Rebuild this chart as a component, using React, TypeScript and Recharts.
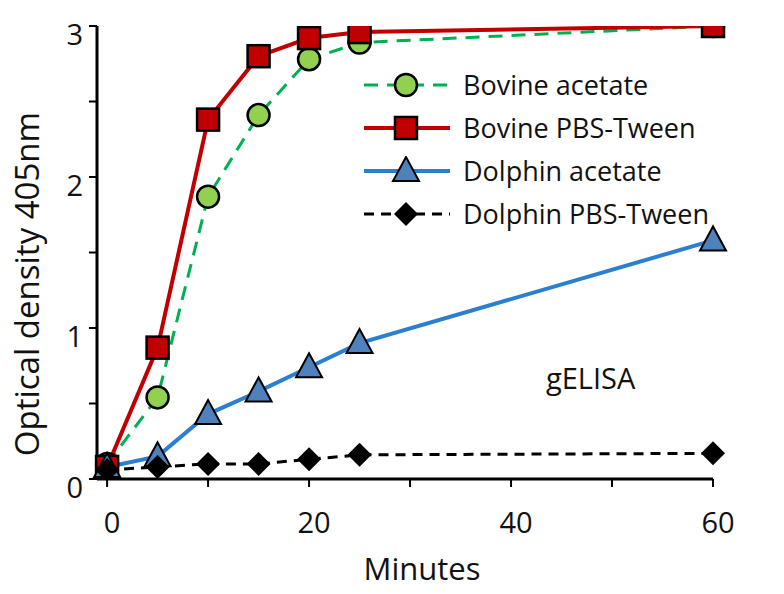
import React from 'react';
import { LineChart, Line, XAxis, YAxis } from 'recharts';

// values
const minutes = [0, 5, 10, 15, 20, 25, 60];
const bovineAcetate = [0.1, 0.54, 1.87, 2.41, 2.78, 2.89, 3.0];
const bovinePbsTween = [0.08, 0.87, 2.38, 2.8, 2.92, 2.96, 3.0];
const dolphinAcetate = [0.08, 0.15, 0.43, 0.58, 0.74, 0.9, 1.58];
const dolphinPbsTween = [0.06, 0.08, 0.1, 0.1, 0.13, 0.16, 0.17];

const xTicks = [0, 10, 20, 30, 40, 50, 60];
const xLabelTicks = [0, 20, 40, 60];
const yTicks = [0, 0.5, 1, 1.5, 2, 2.5, 3];
const yLabelTicks = [0, 1, 2, 3];

const FONT = '"Open Sans", "DejaVu Sans", sans-serif';

const data = minutes.map((m, i) => ({
  minutes: m,
  bovineAcetate: bovineAcetate[i],
  bovinePbsTween: bovinePbsTween[i],
  dolphinAcetate: dolphinAcetate[i],
  dolphinPbsTween: dolphinPbsTween[i],
}));

type Shape = 'circle' | 'square' | 'triangle' | 'diamond';

const drawMarker = (shape: Shape, cx: number, cy: number, key?: string) => {
  switch (shape) {
    case 'circle':
      return <circle key={key} cx={cx} cy={cy} r={11} fill="#92D050" stroke="#000" strokeWidth={2.5} />;
    case 'square':
      return <rect key={key} x={cx - 11} y={cy - 11} width={22} height={22} fill="#C00000" stroke="#000" strokeWidth={2.5} />;
    case 'triangle':
      return (
        <polygon
          key={key}
          points={`${cx},${cy - 14} ${cx - 13},${cy + 10} ${cx + 13},${cy + 10}`}
          fill="#4F81BD"
          stroke="#000"
          strokeWidth={2}
        />
      );
    default:
      return (
        <polygon
          key={key}
          points={`${cx},${cy - 12} ${cx + 12},${cy} ${cx},${cy + 12} ${cx - 12},${cy}`}
          fill="#000"
        />
      );
  }
};

const SERIES = [
  { key: 'bovineAcetate', name: 'Bovine acetate', color: '#00B050', width: 3, dash: '14 9', shape: 'circle' as Shape },
  { key: 'bovinePbsTween', name: 'Bovine PBS-Tween', color: '#C00000', width: 4, dash: undefined, shape: 'square' as Shape },
  { key: 'dolphinAcetate', name: 'Dolphin acetate', color: '#2B7FD0', width: 4, dash: undefined, shape: 'triangle' as Shape },
  { key: 'dolphinPbsTween', name: 'Dolphin PBS-Tween', color: '#000', width: 3, dash: '10 7', shape: 'diamond' as Shape },
];

const XTick = (props: any) => {
  const { x, y, payload } = props;
  if (!xLabelTicks.includes(payload.value)) return <g />;
  return (
    <text x={x + 5} y={y + 40} textAnchor="middle" fontSize={29} fontFamily={FONT} fill="#111">
      {payload.value}
    </text>
  );
};

const YTick = (props: any) => {
  const { x, y, payload } = props;
  if (!yLabelTicks.includes(payload.value)) return <g />;
  return (
    <text x={x} y={y + 19} textAnchor="end" fontSize={29} fontFamily={FONT} fill="#111">
      {payload.value}
    </text>
  );
};

const ChartLegend = () => (
  <div style={{ position: 'absolute', left: 362, top: 63, fontFamily: FONT }}>
    {SERIES.map((s) => (
      <div key={s.key} style={{ display: 'flex', alignItems: 'center', height: 43 }}>
        <svg width={92} height={30} style={{ display: 'block' }}>
          <line x1={2} y1={15} x2={88} y2={15} stroke={s.color} strokeWidth={s.width} strokeDasharray={s.dash} />
          {drawMarker(s.shape, 44, 15)}
        </svg>
        <span style={{ fontSize: 27, color: '#111', marginLeft: 9, lineHeight: '43px', whiteSpace: 'nowrap' }}>{s.name}</span>
      </div>
    ))}
  </div>
);

export default function App() {
  return (
    <div style={{ position: 'absolute', left: 0, top: 0, width: 784, height: 594, background: '#fff' }}>
      <LineChart width={784} height={594} data={data} margin={{ top: 26, right: 71, bottom: 0, left: 0 }}>
        <XAxis
          dataKey="minutes"
          type="number"
          domain={[-1, 60]}
          ticks={xTicks}
          height={115}
          tickSize={8}
          tickMargin={6}
          axisLine={{ stroke: '#000', strokeWidth: 3 }}
          tickLine={{ stroke: '#000', strokeWidth: 2 }}
          tick={<XTick />}
          interval={0}
          label={{
            content: ({ viewBox }: any) => (
              <text
                x={viewBox.x + viewBox.width / 2 + 17}
                y={viewBox.y + 101}
                textAnchor="middle"
                fontSize={31}
                fontFamily={FONT}
                fill="#111"
              >
                Minutes
              </text>
            ),
          }}
        />
        <YAxis
          type="number"
          domain={[0, 3]}
          ticks={yTicks}
          width={97}
          allowDataOverflow
          tickSize={8}
          tickMargin={6}
          axisLine={{ stroke: '#000', strokeWidth: 3 }}
          tickLine={{ stroke: '#000', strokeWidth: 2 }}
          tick={<YTick />}
          interval={0}
          label={{
            content: () => (
              <text
                x={0}
                y={0}
                transform="translate(39, 284) rotate(-90)"
                textAnchor="middle"
                fontSize={33}
                fontFamily={FONT}
                fill="#111"
              >
                Optical density 405nm
              </text>
            ),
          }}
        />
        {SERIES.map((s) => (
          <Line
            key={s.key}
            dataKey={s.key}
            name={s.name}
            type="linear"
            stroke={s.color}
            strokeWidth={s.width}
            strokeDasharray={s.dash}
            isAnimationActive={false}
            dot={(p: any) => drawMarker(s.shape, p.cx, p.cy, `${s.key}-${p.index}`)}
            activeDot={false}
          />
        ))}
      </LineChart>
      <ChartLegend />
      <div
        style={{
          position: 'absolute',
          left: 546,
          top: 358,
          fontSize: 29,
          fontFamily: FONT,
          color: '#111',
          lineHeight: '40px',
        }}
      >
        gELISA
      </div>
    </div>
  );
}
